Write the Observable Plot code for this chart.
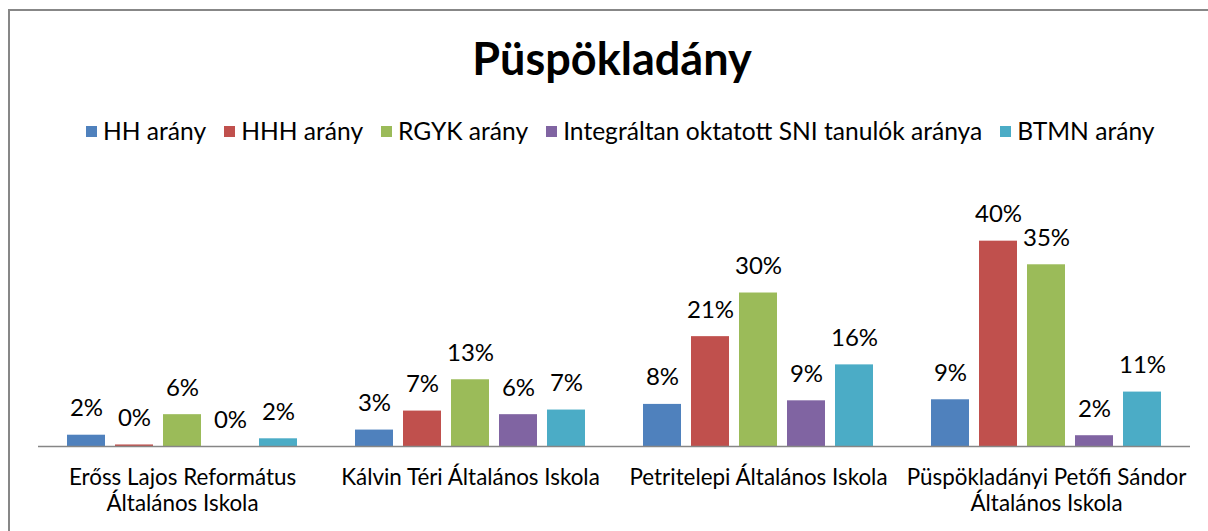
<!DOCTYPE html>
<html>
<head>
<meta charset="utf-8">
<script src="https://cdn.jsdelivr.net/npm/d3@7"></script>
<script src="https://cdn.jsdelivr.net/npm/@observablehq/plot@0.6"></script>
<style>
  html, body { margin: 0; padding: 0; background: #fff; }
  body { width: 1208px; height: 531px; overflow: hidden; position: relative; font-family: Lato, "Open Sans", sans-serif; }
  #frame { position: absolute; left: 8px; top: 9px; width: 1400px; height: 800px; border-left: 2px solid #878787; border-top: 2px solid #878787; }
  #title { position: absolute; left: 0; top: 32px; width: 1224px; text-align: center; font-size: 45px; line-height: 52px; font-weight: 700; color: #000; }
  #legend { position: absolute; left: 86px; top: 118px; height: 26px; display: flex; align-items: center; font-size: 24.6px; line-height: 26px; color: #000; white-space: nowrap; }
  #legend .item { display: flex; align-items: center; margin-right: 18px; }
  #legend .sw { width: 11px; height: 11px; margin-right: 6px; }
  #chart { position: absolute; left: 0; top: 160px; }
</style>
</head>
<body>
<div id="frame"></div>
<div id="title">Püspökladány</div>
<div id="legend"></div>
<div id="chart"></div>
<script>
const categories = [
  "Erőss Lajos Református Általános Iskola",
  "Kálvin Téri Általános Iskola",
  "Petritelepi Általános Iskola",
  "Püspökladányi Petőfi Sándor Általános Iskola"
];
const categoryLabels = [
  "Erőss Lajos Református\nÁltalános Iskola",
  "Kálvin Téri Általános Iskola",
  "Petritelepi Általános Iskola",
  "Püspökladányi Petőfi Sándor\nÁltalános Iskola"
];
const series = ["HH arány", "HHH arány", "RGYK arány", "Integráltan oktatott SNI tanulók aránya", "BTMN arány"];
const colors = ["#4F81BD", "#C0504D", "#9BBB59", "#8064A2", "#4BACC6"];

// values in percent, per category
const hh   = [2.2, 3.2, 8.2, 9.1];
const hhh  = [0.3, 6.9, 21.4, 40.0];
const rgyk = [6.2, 13.0, 29.9, 35.4];
const sni  = [0.0, 6.2, 8.9, 2.1];
const btmn = [1.5, 7.1, 15.9, 10.6];

const seriesValues = [hh, hhh, rgyk, sni, btmn];
const rows = [];
categories.forEach((c, i) => {
  series.forEach((s, j) => {
    rows.push({school: c, series: s, value: seriesValues[j][i]});
  });
});

// legend
const legend = document.getElementById("legend");
series.forEach((s, j) => {
  const item = document.createElement("div");
  item.className = "item";
  const sw = document.createElement("div");
  sw.className = "sw";
  sw.style.background = colors[j];
  const t = document.createElement("span");
  t.textContent = s;
  item.appendChild(sw);
  item.appendChild(t);
  legend.appendChild(item);
});

const chart = Plot.plot({
  width: 1208,
  height: 371,
  marginLeft: 38,
  marginRight: 18,
  marginTop: 55,
  marginBottom: 85,
  style: {fontFamily: "Lato, 'Open Sans', sans-serif", background: "transparent", color: "#000"},
  fx: {domain: categories, padding: 0, label: null},
  x: {domain: series, paddingInner: 10 / 48, paddingOuter: 0.604, axis: null},
  y: {domain: [0, 45], axis: null},
  color: {domain: series, range: colors},
  marks: [
    Plot.barY(rows, {fx: "school", x: "series", y: "value", fill: "series"}),
    Plot.ruleY([0], {stroke: "#868686", strokeWidth: 1.5}),
    Plot.text(rows, {fx: "school", x: "series", y: "value", text: d => Math.round(d.value) + "%", dy: -19, lineAnchor: "bottom", fontSize: 24, fill: "#000"}),
    Plot.axisFx({anchor: "bottom", label: null, tickSize: 0, tickPadding: 19, fontSize: 22.4, lineHeight: 1.2,
      tickFormat: d => categoryLabels[categories.indexOf(d)]})
  ]
});
document.getElementById("chart").appendChild(chart);
</script>
</body>
</html>
